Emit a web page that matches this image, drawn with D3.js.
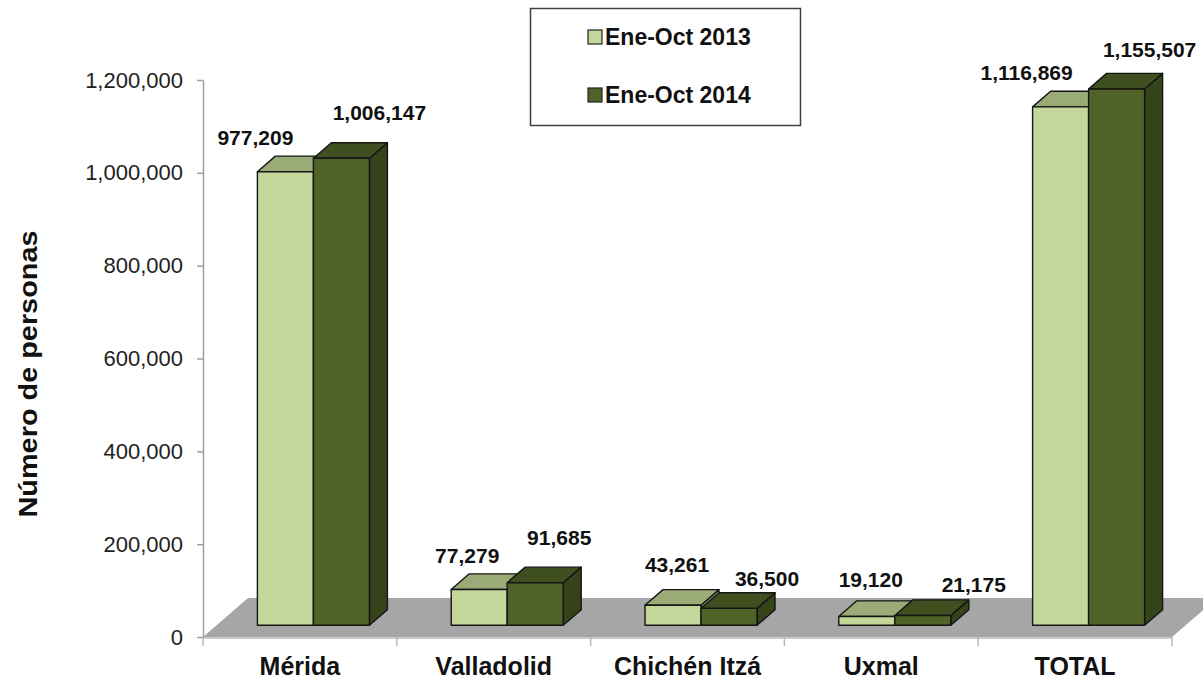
<!DOCTYPE html>
<html>
<head>
<meta charset="utf-8">
<script src="https://cdn.jsdelivr.net/npm/d3@7/dist/d3.min.js"></script>
<style>
	body { margin: 0; background: #fff; }
	svg { display: block; font-family: "Liberation Sans", Arial, sans-serif; }
</style>
</head>
<body>
<svg id="chart" width="1203" height="682"></svg>
<script>
var categories = ["Mérida", "Valladolid", "Chichén Itzá", "Uxmal", "TOTAL"];
var seriesNames = ["Ene-Oct 2013", "Ene-Oct 2014"];
var values2013 = [977209, 77279, 43261, 19120, 1116869];
var values2014 = [1006147, 91685, 36500, 21175, 1155507];
var yTicks = [0, 200000, 400000, 600000, 800000, 1000000, 1200000];
var yTitle = "Número de personas";

// layout only: hand-placed label offsets from the top face centre, [2013, 2014] per category
var labelNudge = [
	[[-39, -19], [29, -30]],
	[[-21, -19], [15, -30]],
	[[-5, -25], [29, -15]],
	[[-5, -22], [42, -16]],
	[[-43, -19], [24, -24]]
];

var colors = {
	front: ["#c4d79b", "#4f6228"],
	top: ["#9aab77", "#3f4f1f"],
	side: ["#a3b47e", "#35431a"]
};

var svg = d3.select("#chart");
var depth = {dx: 45, dy: -39};   // floor depth vector
var barStart = 0.3, barDepth = 0.4;

var x = d3.scaleBand().domain(categories).range([203, 1172]);
var bw = x.bandwidth();
var xs = d3.scaleBand().domain(seriesNames).range([bw * 0.211, bw * 0.789]);
var y = d3.scaleLinear().domain([0, 1200000]).range([637, 80]);

// floor
var fx0 = x.range()[0], fx1 = x.range()[1], fy = y(0);
svg.append("polygon")
	.attr("points", [[fx0, fy], [fx1, fy], [fx1 + depth.dx, fy + depth.dy], [fx0 + depth.dx, fy + depth.dy]].join(" "))
	.attr("fill", "#a6a6a6");

// x axis line + ticks
svg.append("line")
	.attr("x1", fx0).attr("x2", fx1).attr("y1", fy + 1).attr("y2", fy + 1)
	.attr("stroke", "#b8b8b8").attr("stroke-width", 1.5);
var bounds = categories.map(function(c) { return x(c); }).concat([fx1]);
svg.selectAll(".xtick").data(bounds).enter().append("line")
	.attr("class", "xtick")
	.attr("x1", function(d) { return d; }).attr("x2", function(d) { return d; })
	.attr("y1", fy).attr("y2", fy + 9)
	.attr("stroke", "#b8b8b8").attr("stroke-width", 1.5);

// y axis
var yAxis = svg.append("g")
	.attr("transform", "translate(203,0)")
	.call(d3.axisLeft(y).tickValues(yTicks).tickSize(6).tickSizeOuter(0).tickPadding(14).tickFormat(d3.format(",")));
yAxis.select(".domain").attr("stroke", "#a0a0a0").attr("stroke-width", 1.5);
yAxis.selectAll(".tick line").attr("stroke", "#a0a0a0").attr("stroke-width", 1.5);
yAxis.selectAll(".tick text")
	.attr("font-size", 22).attr("fill", "#222")
	.attr("font-family", "'Liberation Sans', Arial, sans-serif");

// bars
var ox = depth.dx * barStart, oy = depth.dy * barStart;
var ddx = depth.dx * barDepth, ddy = depth.dy * barDepth;
var allValues = [values2013, values2014];
var labels = [];

categories.forEach(function(cat, i) {
	seriesNames.forEach(function(s, j) {
		var v = allValues[j][i];
		var x0 = x(cat) + xs(s) + ox;
		var w = xs.bandwidth();
		var yb = y(0) + oy;
		var yt = y(v) + oy;
		var g = svg.append("g")
			.attr("stroke", "#151515")
			.attr("stroke-width", 1.4)
			.attr("stroke-linejoin", "round");
		g.append("polygon")
			.attr("points", [[x0 + w, yt], [x0 + w + ddx, yt + ddy], [x0 + w + ddx, yb + ddy], [x0 + w, yb]].join(" "))
			.attr("fill", colors.side[j]);
		g.append("polygon")
			.attr("points", [[x0, yt], [x0 + w, yt], [x0 + w + ddx, yt + ddy], [x0 + ddx, yt + ddy]].join(" "))
			.attr("fill", colors.top[j]);
		g.append("rect")
			.attr("x", x0).attr("y", yt)
			.attr("width", w).attr("height", yb - yt)
			.attr("fill", colors.front[j]);
		labels.push({
			x: x0 + w / 2 + ddx / 2 + labelNudge[i][j][0],
			y: yt + ddy / 2 + labelNudge[i][j][1],
			text: d3.format(",")(v)
		});
	});
});

svg.selectAll(".vlabel").data(labels).enter().append("text")
	.attr("class", "vlabel")
	.attr("x", function(d) { return d.x; })
	.attr("y", function(d) { return d.y; })
	.attr("text-anchor", "middle")
	.attr("font-size", 21)
	.attr("font-weight", "bold")
	.attr("fill", "#111")
	.text(function(d) { return d.text; });

// category labels
svg.selectAll(".clabel").data(categories).enter().append("text")
	.attr("class", "clabel")
	.attr("x", function(d) { return x(d) + bw / 2; })
	.attr("y", 675)
	.attr("text-anchor", "middle")
	.attr("font-size", 25)
	.attr("font-weight", "bold")
	.attr("fill", "#111")
	.text(function(d) { return d; });

// y title
svg.append("text")
	.attr("transform", "translate(37,374) rotate(-90)")
	.attr("text-anchor", "middle")
	.attr("font-size", 26)
	.attr("font-weight", "bold")
	.attr("fill", "#111")
	.attr("textLength", 287)
	.attr("lengthAdjust", "spacingAndGlyphs")
	.text(yTitle);

// legend
var legend = svg.append("g");
legend.append("rect")
	.attr("x", 530.5).attr("y", 8.5).attr("width", 270).attr("height", 117)
	.attr("fill", "#fff").attr("stroke", "#404040").attr("stroke-width", 1.5);
var li = legend.selectAll(".li").data(seriesNames).enter().append("g")
	.attr("class", "li")
	.attr("transform", function(d, i) { return "translate(588," + (30 + i * 58) + ")"; });
li.append("rect")
	.attr("width", 14).attr("height", 14)
	.attr("fill", function(d, i) { return colors.front[i]; })
	.attr("stroke", "#222").attr("stroke-width", 1.2);
li.append("text")
	.attr("x", 17).attr("y", 15)
	.attr("font-size", 23)
	.attr("font-weight", "bold")
	.attr("fill", "#111")
	.text(function(d) { return d; });
</script>
</body>
</html>
